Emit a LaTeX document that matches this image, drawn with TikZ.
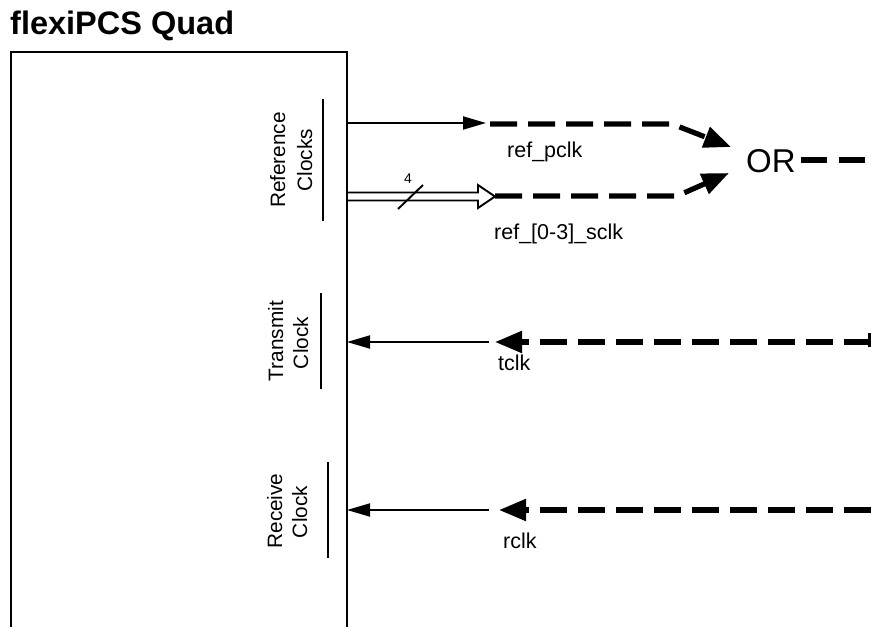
\documentclass[tikz,border=0pt]{standalone}
\usepackage{fontspec}
\setmainfont{Liberation Sans}
\usetikzlibrary{arrows.meta}
\tikzset{
  boxline/.style={line width=2.5pt, line cap=butt},
  barline/.style={line width=2.5pt},
  sigline/.style={line width=1.9pt, -{Triangle[length=23pt,width=13pt]}},
  dashsig/.style={line width=5.2pt, dash pattern=on 27pt off 11pt, line join=round,
    -{Triangle[length=27pt,width=21pt]}},
  dashplain/.style={line width=5.2pt, dash pattern=on 26pt off 12pt},
  lbl/.style={font=\fontsize{21.5}{25}\selectfont, inner sep=0pt},
  vlbl/.style={font=\fontsize{20.8}{24}\selectfont, inner sep=0pt, rotate=90, anchor=base},
}
\begin{document}
\begin{tikzpicture}[x=1pt,y=-1pt]
\useasboundingbox (0,0) rectangle (871,627);
% title
\node[anchor=base west, inner sep=0pt, font=\bfseries\fontsize{32.5}{36}\selectfont] (title) at (10,34) {flexiPCS Quad};
% block
\coordinate (bl) at (11,627);
\coordinate (tl) at (11,52);
\coordinate (tr) at (347,52);
\coordinate (br) at (347,627);
\draw[boxline] (bl) -- (tl) -- (tr) -- (br);
% group labels and bars
\node[vlbl] (refA) at (285,160) {Reference};
\node[vlbl] (refB) at (312,160) {Clocks};
\coordinate (rb1) at (323,99); \coordinate (rb2) at (323,221);
\draw[barline] (rb1) -- (rb2);
\node[vlbl] (txA) at (283,341) {Transmit};
\node[vlbl] (txB) at (308,343) {Clock};
\coordinate (tb1) at (321,293); \coordinate (tb2) at (321,389);
\draw[barline] (tb1) -- (tb2);
\node[vlbl] (rxA) at (282,511) {Receive};
\node[vlbl] (rxB) at (307,512) {Clock};
\coordinate (xb1) at (328,462); \coordinate (xb2) at (328,558);
\draw[barline] (xb1) -- (xb2);
% ref_pclk
\coordinate (p0) at (347,123);
\coordinate (p1) at (486,123);
\draw[sigline] (p0) -- (p1);
\coordinate (p2) at (490,124);
\coordinate (p3) at (672,124);
\coordinate (p4) at (731,147);
\draw[dashsig] (p2) -- (p3) -- (p4);
\node[lbl, anchor=base west] (lpclk) at (507,157) {ref\_pclk};
% OR
\node[inner sep=0pt, font=\fontsize{33}{36}\selectfont, anchor=base west] (or) at (746,172.5) {OR};
\coordinate (o1) at (801,160);
\coordinate (o2) at (871,160);
\draw[dashplain] (o1) -- (o2);
% ref_[0-3]_sclk bus
\coordinate (s0) at (347,192.5);
\coordinate (s1) at (478,192.5);
\coordinate (s2) at (478,185);
\coordinate (s3) at (495,196.5);
\coordinate (s4) at (478,208);
\coordinate (s5) at (478,200.5);
\coordinate (s6) at (347,200.5);
\draw[line width=1.9pt, line join=miter] (s0) -- (s1) -- (s2) -- (s3) -- (s4) -- (s5) -- (s6);
\coordinate (k1) at (398,209); \coordinate (k2) at (423,185);
\draw[line width=1.9pt] (k1) -- (k2);
\node[inner sep=0pt, font=\fontsize{14}{16}\selectfont] (four) at (408,179) {4};
\coordinate (q1) at (495,196);
\coordinate (q2) at (677,196);
\coordinate (q3) at (729,173);
\draw[dashsig] (q1) -- (q2) -- (q3);
\node[lbl, anchor=base west] (lsclk) at (494,239) {ref\_[0-3]\_sclk};
% tclk
\coordinate (t0) at (489,342);
\coordinate (t1) at (347,342);
\draw[sigline] (t0) -- (t1);
\coordinate (t2) at (871,342);
\coordinate (t3) at (495,342);
\draw[dashsig] (t2) -- (t3);
\coordinate (tk1) at (869,333); \coordinate (tk2) at (869,347);
\draw[line width=3pt] (tk1) -- (tk2);
\node[lbl, anchor=base west] (ltclk) at (498,370) {tclk};
% rclk
\coordinate (r0) at (489,510);
\coordinate (r1) at (347,510);
\draw[sigline] (r0) -- (r1);
\coordinate (r2) at (871,510);
\coordinate (r3) at (499,510);
\draw[dashsig] (r2) -- (r3);
\node[lbl, anchor=base west] (lrclk) at (503,548) {rclk};
\end{tikzpicture}
\end{document}
